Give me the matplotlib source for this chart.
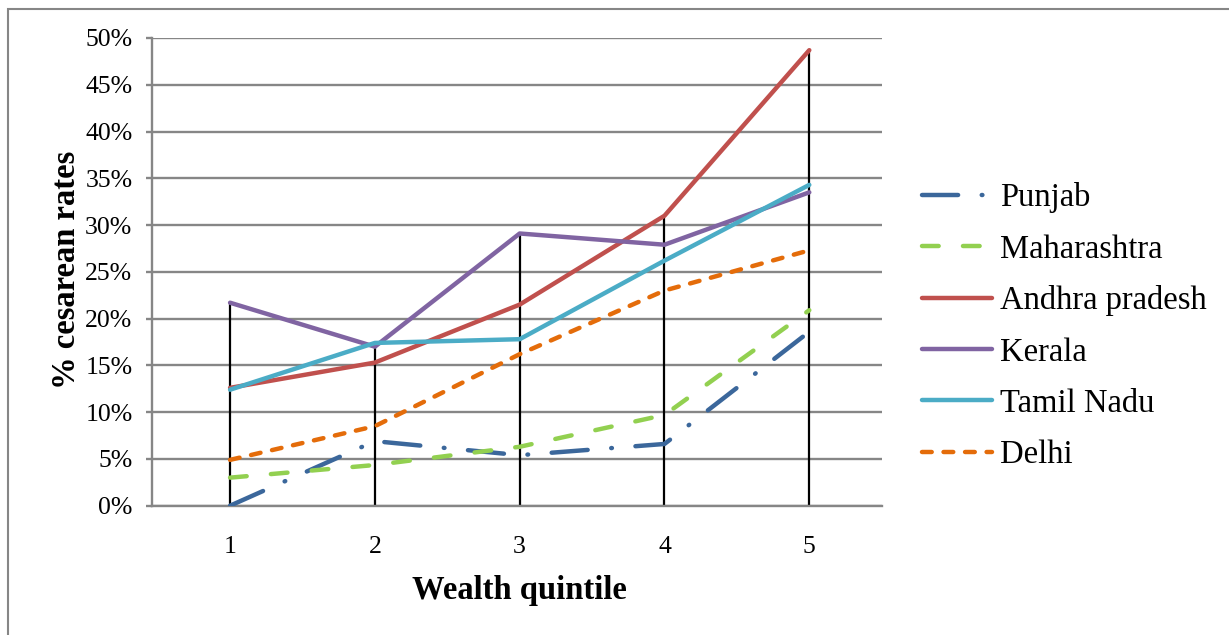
import matplotlib
matplotlib.use("Agg")
import matplotlib.pyplot as plt
from matplotlib.patches import Rectangle
from matplotlib.ticker import FuncFormatter

# Caesarean rates (%) by wealth quintile
quintiles = [1, 2, 3, 4, 5]
punjab = [0.0, 6.9, 5.4, 6.6, 18.6]
maharashtra = [3.0, 4.35, 6.3, 9.7, 20.9]
andhra_pradesh = [12.6, 15.3, 21.5, 31.0, 48.7]
kerala = [21.7, 17.0, 29.1, 27.9, 33.5]
tamil_nadu = [12.4, 17.4, 17.8, 26.2, 34.3]
delhi = [4.9, 8.5, 16.2, 23.0, 27.3]

series_names = ["Punjab", "Maharashtra", "Andhra pradesh", "Kerala", "Tamil Nadu", "Delhi"]
series_values = [punjab, maharashtra, andhra_pradesh, kerala, tamil_nadu, delhi]
y_ticks = [0, 5, 10, 15, 20, 25, 30, 35, 40, 45, 50]

colors = ["#3B679B", "#92D050", "#C0504D", "#8064A2", "#4BACC6", "#E46C0A"]
styles = [
    (0, (26, 17, 0.5, 17)),
    (0, (12, 17.5)),
    "-",
    "-",
    "-",
    (0, (7, 8.5)),
]

plt.rcParams["font.family"] = ["Liberation Serif", "DejaVu Serif"]
plt.rcParams["lines.scale_dashes"] = False

W, H = 1229, 635
fig = plt.figure(figsize=(W / 100, H / 100), dpi=100)
ax = fig.add_axes([152.3 / W, 1 - 505.7 / H, 729.4 / W, 467.7 / H])

grid_c = "#868686"
ax.set_ylim(0, 50)
ax.set_xlim(0.463, 5.5)
ax.set_yticks(y_ticks)
ax.yaxis.set_major_formatter(FuncFormatter(lambda v, p: f"{v:.0f}%"))
ax.set_xticks(quintiles)
ax.set_xticklabels([str(q) for q in quintiles])
ax.grid(axis="y", color=grid_c, lw=1.7, zorder=0)
ax.set_axisbelow(True)

for side in ["top", "right"]:
    ax.spines[side].set_visible(False)
for side in ["left", "bottom"]:
    ax.spines[side].set_color(grid_c)
    ax.spines[side].set_linewidth(1.7)

ax.tick_params(axis="y", length=4.3, width=1.7, color=grid_c, pad=10,
               labelsize=18.5)
ax.tick_params(axis="x", length=0, pad=22, labelsize=18.5)

# drop lines from the highest series value down to the axis
for i, q in enumerate(quintiles):
    top = max(vals[i] for vals in series_values)
    ax.vlines(q, 0, top, color="black", lw=1.6, zorder=2)

for name, vals, c, ls in zip(series_names, series_values, colors, styles):
    ax.plot(quintiles, vals, color=c, lw=3.2, linestyle=ls,
            dash_capstyle="round", solid_capstyle="round",
            solid_joinstyle="round", label=name, zorder=3)

ax.set_xlabel("Wealth quintile", fontsize=23.5, fontweight="bold")
ax.xaxis.set_label_coords(0.504, -0.148)
ax.set_ylabel("% cesarean rates", fontsize=23.5, fontweight="bold")
ax.yaxis.set_label_coords(-0.097, 0.504)

fig.legend(loc="upper left", bbox_to_anchor=(922 / W, 1 - 182.5 / H),
           frameon=False, fontsize=23.5, borderpad=0, borderaxespad=0,
           handlelength=2.15, handletextpad=0.24, labelspacing=0.635)

fig.add_artist(Rectangle((7.5 / W, -0.1), 1.2, 1 - 8.5 / H + 0.1,
                         transform=fig.transFigure, fill=False,
                         ec=grid_c, lw=1.5))

fig.savefig("out.png", dpi=100)
